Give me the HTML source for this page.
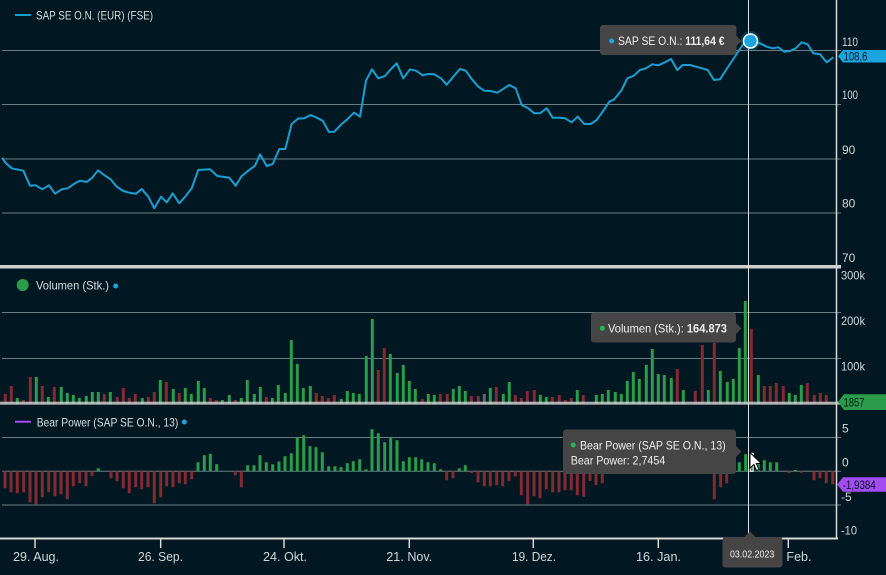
<!DOCTYPE html>
<html><head><meta charset="utf-8"><style>
html,body{margin:0;padding:0;background:#011822;overflow:hidden}
svg{display:block}
text{font-family:"Liberation Sans",sans-serif}
</style></head><body>
<svg width="886" height="575" viewBox="0 0 886 575" xmlns="http://www.w3.org/2000/svg">
<rect width="886" height="575" fill="#011822"/>
<!-- grid lines -->
<g stroke="#6c7c83" stroke-width="1">
<line x1="2" y1="50.5" x2="841" y2="50.5"/>
<line x1="2" y1="104.5" x2="841" y2="104.5"/>
<line x1="2" y1="159" x2="841" y2="159"/>
<line x1="2" y1="213" x2="841" y2="213"/>
<line x1="2" y1="312.5" x2="841" y2="312.5"/>
<line x1="2" y1="358.5" x2="841" y2="358.5"/>
<line x1="2" y1="437.5" x2="841" y2="437.5"/>
<line x1="2" y1="471.3" x2="841" y2="471.3"/>
<line x1="2" y1="505" x2="841" y2="505"/>
</g>
<!-- separators -->
<rect x="0" y="265" width="841" height="3.5" fill="#cfcfcf"/>
<!-- volume bars -->
<path fill="#2a9c4b" d="M15.8 398h3V404h-3zM34.8 377h3V404h-3zM46.8 397h3V404h-3zM59.8 387h3V404h-3zM65.8 393h3V404h-3zM71.8 395h3V404h-3zM77.8 398h3V404h-3zM84.8 396h3V404h-3zM90.8 392h3V404h-3zM96.8 392h3V404h-3zM108.8 392h3V404h-3zM140.8 398h3V404h-3zM158.8 380h3V404h-3zM171.8 389h3V404h-3zM183.8 388h3V404h-3zM189.8 394h3V404h-3zM196.8 381h3V404h-3zM202.8 388h3V404h-3zM220.8 400h3V404h-3zM227.8 395h3V404h-3zM239.8 398h3V404h-3zM245.8 380h3V404h-3zM252.8 394h3V404h-3zM258.8 387h3V404h-3zM270.8 398h3V404h-3zM276.8 385h3V404h-3zM283.8 393h3V404h-3zM289.8 340h3V404h-3zM295.8 364h3V404h-3zM301.8 388h3V404h-3zM308.8 386h3V404h-3zM339.8 399h3V404h-3zM345.8 391h3V404h-3zM351.8 393h3V404h-3zM357.8 394h3V404h-3zM364.8 356h3V404h-3zM370.8 319h3V404h-3zM388.8 354h3V404h-3zM395.8 373h3V404h-3zM401.8 365h3V404h-3zM407.8 381h3V404h-3zM413.8 389h3V404h-3zM426.8 394h3V404h-3zM432.8 395h3V404h-3zM451.8 389h3V404h-3zM457.8 386h3V404h-3zM463.8 391h3V404h-3zM488.8 388h3V404h-3zM501.8 394h3V404h-3zM507.8 382h3V404h-3zM538.8 395h3V404h-3zM544.8 397h3V404h-3zM575.8 390h3V404h-3zM594.8 395h3V404h-3zM600.8 394h3V404h-3zM606.8 390h3V404h-3zM613.8 392h3V404h-3zM619.8 394h3V404h-3zM625.8 381h3V404h-3zM631.8 372h3V404h-3zM637.8 379h3V404h-3zM644.8 365h3V404h-3zM650.8 349h3V404h-3zM656.8 374h3V404h-3zM662.8 375h3V404h-3zM669.8 378h3V404h-3zM681.8 390h3V404h-3zM706.8 390h3V404h-3zM718.8 371h3V404h-3zM725.8 382h3V404h-3zM731.8 379h3V404h-3zM737.8 348h3V404h-3zM743.8 301h3V404h-3zM756.8 375h3V404h-3zM787.8 393h3V404h-3zM793.8 395h3V404h-3zM799.8 385h3V404h-3z"/>
<path fill="#842a31" d="M3.8 394h3V404h-3zM9.8 386h3V404h-3zM21.8 400h3V404h-3zM28.8 377h3V404h-3zM40.8 386h3V404h-3zM52.8 387h3V404h-3zM102.8 394h3V404h-3zM115.8 397h3V404h-3zM121.8 388h3V404h-3zM127.8 398h3V404h-3zM133.8 394h3V404h-3zM146.8 397h3V404h-3zM152.8 392h3V404h-3zM164.8 382h3V404h-3zM177.8 393h3V404h-3zM208.8 398h3V404h-3zM214.8 400h3V404h-3zM233.8 400h3V404h-3zM264.8 397h3V404h-3zM314.8 393h3V404h-3zM320.8 396h3V404h-3zM326.8 398h3V404h-3zM332.8 395h3V404h-3zM376.8 370h3V404h-3zM382.8 348h3V404h-3zM420.8 399h3V404h-3zM438.8 394h3V404h-3zM445.8 394h3V404h-3zM469.8 396h3V404h-3zM476.8 396h3V404h-3zM494.8 387h3V404h-3zM513.8 395h3V404h-3zM519.8 398h3V404h-3zM525.8 391h3V404h-3zM532.8 390h3V404h-3zM550.8 397h3V404h-3zM557.8 395h3V404h-3zM563.8 400h3V404h-3zM569.8 398h3V404h-3zM581.8 395h3V404h-3zM675.8 369h3V404h-3zM693.8 391h3V404h-3zM700.8 345h3V404h-3zM712.8 343h3V404h-3zM749.8 329h3V404h-3zM762.8 386h3V404h-3zM768.8 386h3V404h-3zM774.8 383h3V404h-3zM781.8 386h3V404h-3zM805.8 383h3V404h-3zM812.8 395h3V404h-3zM818.8 393h3V404h-3zM824.8 395h3V404h-3z"/>
<path fill="#5e6468" d="M482.8 394h3V404h-3z"/>
<rect x="0" y="401.7" width="841" height="3" fill="#d4d4d4" opacity="0.8"/>
<!-- bear power bars -->
<path fill="#2a9c4b" d="M96.8 468.3h3V471.3h-3zM196.5 462.3h3V471.3h-3zM202.8 455.3h3V471.3h-3zM208.8 453.7h3V471.3h-3zM215.2 464.3h3V471.3h-3zM246.2 465.3h3V471.3h-3zM252.5 465.3h3V471.3h-3zM258.5 455.3h3V471.3h-3zM264.8 462.3h3V471.3h-3zM271.2 464.3h3V471.3h-3zM277.5 461.5h3V471.3h-3zM283.5 456.3h3V471.3h-3zM289.8 453.3h3V471.3h-3zM295.8 437.3h3V471.3h-3zM302.2 435.3h3V471.3h-3zM308.5 446.3h3V471.3h-3zM314.5 447.3h3V471.3h-3zM320.8 452.3h3V471.3h-3zM327.2 466.3h3V471.3h-3zM333.5 466.3h3V471.3h-3zM339.5 467.3h3V471.3h-3zM345.8 463.3h3V471.3h-3zM351.8 461.3h3V471.3h-3zM358.2 459.3h3V471.3h-3zM364.5 469.3h3V471.3h-3zM370.5 429.3h3V471.3h-3zM376.8 433.3h3V471.3h-3zM383.2 442.3h3V471.3h-3zM389.2 437.3h3V471.3h-3zM395.5 440.3h3V471.3h-3zM401.8 461.3h3V471.3h-3zM407.8 457.3h3V471.3h-3zM414.2 457.3h3V471.3h-3zM420.2 459.3h3V471.3h-3zM426.5 462.3h3V471.3h-3zM432.8 463.3h3V471.3h-3zM439.2 469.3h3V471.3h-3zM457.8 468.3h3V471.3h-3zM463.8 465.3h3V471.3h-3zM731.5 468h3V471.3h-3zM737.8 462.3h3V471.3h-3zM744.2 454.3h3V471.3h-3zM756.8 463.3h3V471.3h-3zM762.8 460.3h3V471.3h-3zM768.8 462.3h3V471.3h-3zM775.2 462.3h3V471.3h-3zM793.8 470h3V471.3h-3z"/>
<path fill="#842a31" d="M3.5 471.3h3V488.3h-3zM9.5 471.3h3V492.3h-3zM15.8 471.3h3V493.3h-3zM22.2 471.3h3V492.3h-3zM28.5 471.3h3V502.3h-3zM34.5 471.3h3V504.3h-3zM40.8 471.3h3V497.3h-3zM47.2 471.3h3V492.3h-3zM53.5 471.3h3V496.3h-3zM59.5 471.3h3V494.3h-3zM65.8 471.3h3V499.3h-3zM71.8 471.3h3V486.3h-3zM78.2 471.3h3V483.3h-3zM84.5 471.3h3V486.3h-3zM90.5 471.3h3V476h-3zM109.5 471.3h3V478.3h-3zM115.5 471.3h3V481.3h-3zM121.8 471.3h3V488.3h-3zM127.8 471.3h3V493.3h-3zM134.2 471.3h3V487.3h-3zM140.2 471.3h3V489.3h-3zM146.5 471.3h3V487.3h-3zM152.8 471.3h3V503.3h-3zM159.2 471.3h3V497.3h-3zM165.2 471.3h3V486.3h-3zM171.5 471.3h3V487.3h-3zM177.8 471.3h3V483.3h-3zM183.8 471.3h3V484.3h-3zM190.2 471.3h3V479.3h-3zM233.8 471.3h3V475.3h-3zM239.8 471.3h3V487.3h-3zM445.2 471.3h3V480.3h-3zM451.5 471.3h3V478.3h-3zM470.2 471.3h3V473.3h-3zM476.5 471.3h3V482.3h-3zM482.8 471.3h3V486.3h-3zM488.8 471.3h3V486.3h-3zM495.2 471.3h3V485.3h-3zM501.2 471.3h3V486.3h-3zM507.5 471.3h3V481.3h-3zM513.8 471.3h3V476.3h-3zM519.8 471.3h3V495.3h-3zM526.2 471.3h3V504.3h-3zM532.5 471.3h3V496.3h-3zM538.5 471.3h3V498.3h-3zM544.8 471.3h3V489.3h-3zM551.2 471.3h3V492.3h-3zM557.5 471.3h3V492.3h-3zM563.5 471.3h3V490.3h-3zM569.8 471.3h3V490.3h-3zM575.8 471.3h3V495.3h-3zM582.2 471.3h3V496.7h-3zM588.5 471.3h3V481h-3zM594.5 471.3h3V485h-3zM600.8 471.3h3V483.3h-3zM712.8 471.3h3V499.3h-3zM719.2 471.3h3V487.3h-3zM725.2 471.3h3V483.3h-3zM787.5 471.3h3V473.3h-3zM799.8 471.3h3V472.7h-3zM812.5 471.3h3V480.3h-3zM818.5 471.3h3V478.3h-3zM824.8 471.3h3V483.3h-3zM831.2 471.3h3V484.3h-3z"/>
<rect x="750.2" y="453.3" width="3" height="18" fill="#2a9c4b" stroke="#ffffff" stroke-width="1"/>
<!-- price line -->
<polyline fill="none" stroke="#1a9fd2" stroke-width="2" stroke-linejoin="round" points="2,157.7 6,163.3 11.7,168.3 23.3,170.7 30,185.7 35.7,185.3 42.3,189.3 49,185.3 55,193.7 61.7,189.3 67.7,188.3 75,183.3 80,180.7 86.7,182 92.3,177.7 98,170.3 105,175.7 110.7,179.3 116.7,186.7 123.3,191 129.3,192.7 136,193.7 141.7,189 148.3,196.7 154.3,208.3 161,196.7 166.7,202.3 172.7,193.3 179.3,203.3 185.7,196 191.7,188.3 198.3,170 210,169.3 217.3,176 222.7,176.7 229.3,177.7 235.7,185.7 241.7,176 248.3,170.7 255,165.7 260,154.3 266.7,166 272.7,164 279.3,149 285.3,149 291.7,124 298.3,118.5 304,118.3 310.7,115 316.7,117.7 322.7,120.7 329,132 334.3,131.7 341.7,124 347.3,119.3 354,112.7 360,116.7 366,80.7 372,69.3 378.3,78.3 385,76 391,69 396.7,63.3 403.3,78.3 410,69.3 416,70.7 422.7,75.3 428.3,74 434.3,74.3 441,78.3 446.7,84.7 453.3,76.7 460,69 465.7,70.7 471.7,79 478.3,86.7 484.3,90.7 490.7,91 497.3,92.7 502.7,89.3 509.3,85 515.7,88.3 521.7,105 528.3,108.3 534.3,113.3 540,113.3 546.7,108.3 552.7,117.7 559.3,117.7 565,118.3 571.7,122.3 577.7,116.7 584.3,124 590.7,124 596.7,120 602.7,111.7 609.3,101.7 614.3,99.3 621.7,90 627.3,78.3 633.3,76 640,70 646,68.3 652.3,64.3 658.3,65.3 665,62.3 671,59 677.3,70 682.7,65 690,65 696,66.7 702,68.3 707.7,70 714,80 720,79.3 726,70 732.7,60 739.3,50 745,41.7 750.7,41 753.3,41.7 760,43.3 766.7,46.7 772.7,48.3 778.3,47.3 784.3,51.7 790,51 795.7,48.3 801.7,42.3 807.7,44.3 813.3,53.3 820,54.3 826.7,62.3 833.3,57.3"/>
<!-- axes -->
<line x1="836.5" y1="0" x2="836.5" y2="539" stroke="#d8d8d8" stroke-width="1.5"/>
<line x1="0" y1="538.5" x2="838" y2="538.5" stroke="#d8d8d8" stroke-width="2"/>
<g stroke="#d8d8d8" stroke-width="1.5">
<line x1="35" y1="538" x2="35" y2="548"/>
<line x1="160.7" y1="538" x2="160.7" y2="548"/>
<line x1="284" y1="538" x2="284" y2="548"/>
<line x1="409.3" y1="538" x2="409.3" y2="548"/>
<line x1="533.3" y1="538" x2="533.3" y2="548"/>
<line x1="658.3" y1="538" x2="658.3" y2="548"/>
<line x1="788.3" y1="538" x2="788.3" y2="548"/>
</g>
<!-- crosshair -->
<line x1="748.5" y1="0" x2="748.5" y2="537" stroke="#e2e2e2" stroke-width="1"/>
<circle cx="750.5" cy="41" r="10" fill="#1a9fd2" opacity="0.25"/>
<circle cx="750.5" cy="41" r="7" fill="#1aa6dc" stroke="#ffffff" stroke-width="1.5"/>
<!-- right axis labels -->
<g fill="#d2d6d8" font-size="12">
<text x="842" y="46" textLength="16" lengthAdjust="spacingAndGlyphs">110</text>
<text x="842" y="99" textLength="16" lengthAdjust="spacingAndGlyphs">100</text>
<text x="842" y="154">90</text>
<text x="842" y="207.5">80</text>
<text x="842" y="262">70</text>
<text x="841" y="279.5" textLength="24" lengthAdjust="spacingAndGlyphs">300k</text>
<text x="841" y="325" textLength="24" lengthAdjust="spacingAndGlyphs">200k</text>
<text x="841" y="370.5" textLength="24" lengthAdjust="spacingAndGlyphs">100k</text>
<text x="842" y="432.5">5</text>
<text x="842" y="466.5">0</text>
<text x="841" y="501">-5</text>
<text x="841" y="534.5" textLength="16" lengthAdjust="spacingAndGlyphs">-10</text>
</g>
<!-- value labels -->
<polygon points="838,56.3 843,50 886,50 886,62.5 843,62.5" fill="#1aa6dc"/>
<text x="843.5" y="60.5" font-size="11.5" fill="#021520" textLength="24" lengthAdjust="spacingAndGlyphs">108,6</text>
<polygon points="838,402 844,394.3 886,394.3 886,410 844,410" fill="#2a9c4b"/>
<text x="843.5" y="406.5" font-size="11.5" fill="#021520" textLength="21" lengthAdjust="spacingAndGlyphs">1857</text>
<polygon points="837.3,484.5 843,477.3 886,477.3 886,491.7 843,491.7" fill="#a24cf2"/>
<text x="842.7" y="489" font-size="11.5" fill="#021520" textLength="33" lengthAdjust="spacingAndGlyphs">-1,9384</text>
<!-- x labels -->
<g fill="#d2d6d8" font-size="13" text-anchor="middle">
<text x="36" y="561" textLength="46" lengthAdjust="spacingAndGlyphs">29. Aug.</text>
<text x="160.5" y="561" textLength="45" lengthAdjust="spacingAndGlyphs">26. Sep.</text>
<text x="285" y="561" textLength="44" lengthAdjust="spacingAndGlyphs">24. Okt.</text>
<text x="409.3" y="561" textLength="46" lengthAdjust="spacingAndGlyphs">21. Nov.</text>
<text x="534" y="561" textLength="44" lengthAdjust="spacingAndGlyphs">19. Dez.</text>
<text x="658.5" y="561" textLength="45" lengthAdjust="spacingAndGlyphs">16. Jan.</text>
<text x="788.5" y="561" textLength="46" lengthAdjust="spacingAndGlyphs">13. Feb.</text>
</g>
<!-- legends -->
<line x1="15" y1="15" x2="31" y2="15" stroke="#1a9fd2" stroke-width="2"/>
<text x="36" y="19.5" font-size="12" fill="#d8dcde" textLength="117" lengthAdjust="spacingAndGlyphs">SAP SE O.N. (EUR) (FSE)</text>
<circle cx="22.7" cy="285" r="6" fill="#2a9c4b"/>
<text x="36" y="289.5" font-size="12" fill="#d8dcde" textLength="73" lengthAdjust="spacingAndGlyphs">Volumen (Stk.)</text>
<circle cx="115.7" cy="286" r="2.5" fill="#1aa6dc"/>
<line x1="15" y1="421.7" x2="31" y2="421.7" stroke="#a24cf2" stroke-width="2"/>
<text x="36.7" y="426.3" font-size="12" fill="#d8dcde" textLength="141.6" lengthAdjust="spacingAndGlyphs">Bear Power (SAP SE O.N., 13)</text>
<circle cx="184.3" cy="422" r="2.5" fill="#1aa6dc"/>
<!-- tooltips -->
<g fill="#454545">
<rect x="600" y="25" width="136.5" height="30" rx="3"/>
<polygon points="736,35.5 741.5,41 736,46.5"/>
<rect x="591" y="312.5" width="145" height="30" rx="3"/>
<polygon points="736,323 741.5,328.5 736,334"/>
<rect x="563" y="429.5" width="173" height="44.5" rx="3"/>
<polygon points="736,446 741.5,451.5 736,457"/>
<rect x="722.5" y="537" width="60" height="30.5" rx="3"/>
<polygon points="744.5,537 750,531.5 755.5,537"/>
</g>
<circle cx="611.7" cy="41" r="2.5" fill="#1aa6dc"/>
<text x="618" y="45" font-size="12" fill="#eeeeee" textLength="106.5" lengthAdjust="spacingAndGlyphs">SAP SE O.N.: <tspan font-weight="bold">111,64 €</tspan></text>
<circle cx="602.3" cy="328.3" r="2.5" fill="#2ab352"/>
<text x="608" y="332.5" font-size="12" fill="#eeeeee" textLength="119" lengthAdjust="spacingAndGlyphs">Volumen (Stk.): <tspan font-weight="bold">164.873</tspan></text>
<circle cx="573.3" cy="445" r="2.5" fill="#2ab352"/>
<text x="580" y="449.3" font-size="12" fill="#eeeeee" textLength="145.7" lengthAdjust="spacingAndGlyphs">Bear Power (SAP SE O.N., 13)</text>
<text x="570.7" y="464.5" font-size="12" fill="#eeeeee" textLength="94.6" lengthAdjust="spacingAndGlyphs">Bear Power: 2,7454</text>
<text x="730" y="557.5" font-size="10" fill="#eeeeee" textLength="44.3" lengthAdjust="spacingAndGlyphs">03.02.2023</text>
<!-- cursor -->
<polygon points="750,452.5 750,468 753.8,464.5 756.5,470.5 759,469.5 756.3,463.5 761.3,463.5" fill="#ffffff" stroke="#000000" stroke-width="1"/>
</svg>
</body></html>
